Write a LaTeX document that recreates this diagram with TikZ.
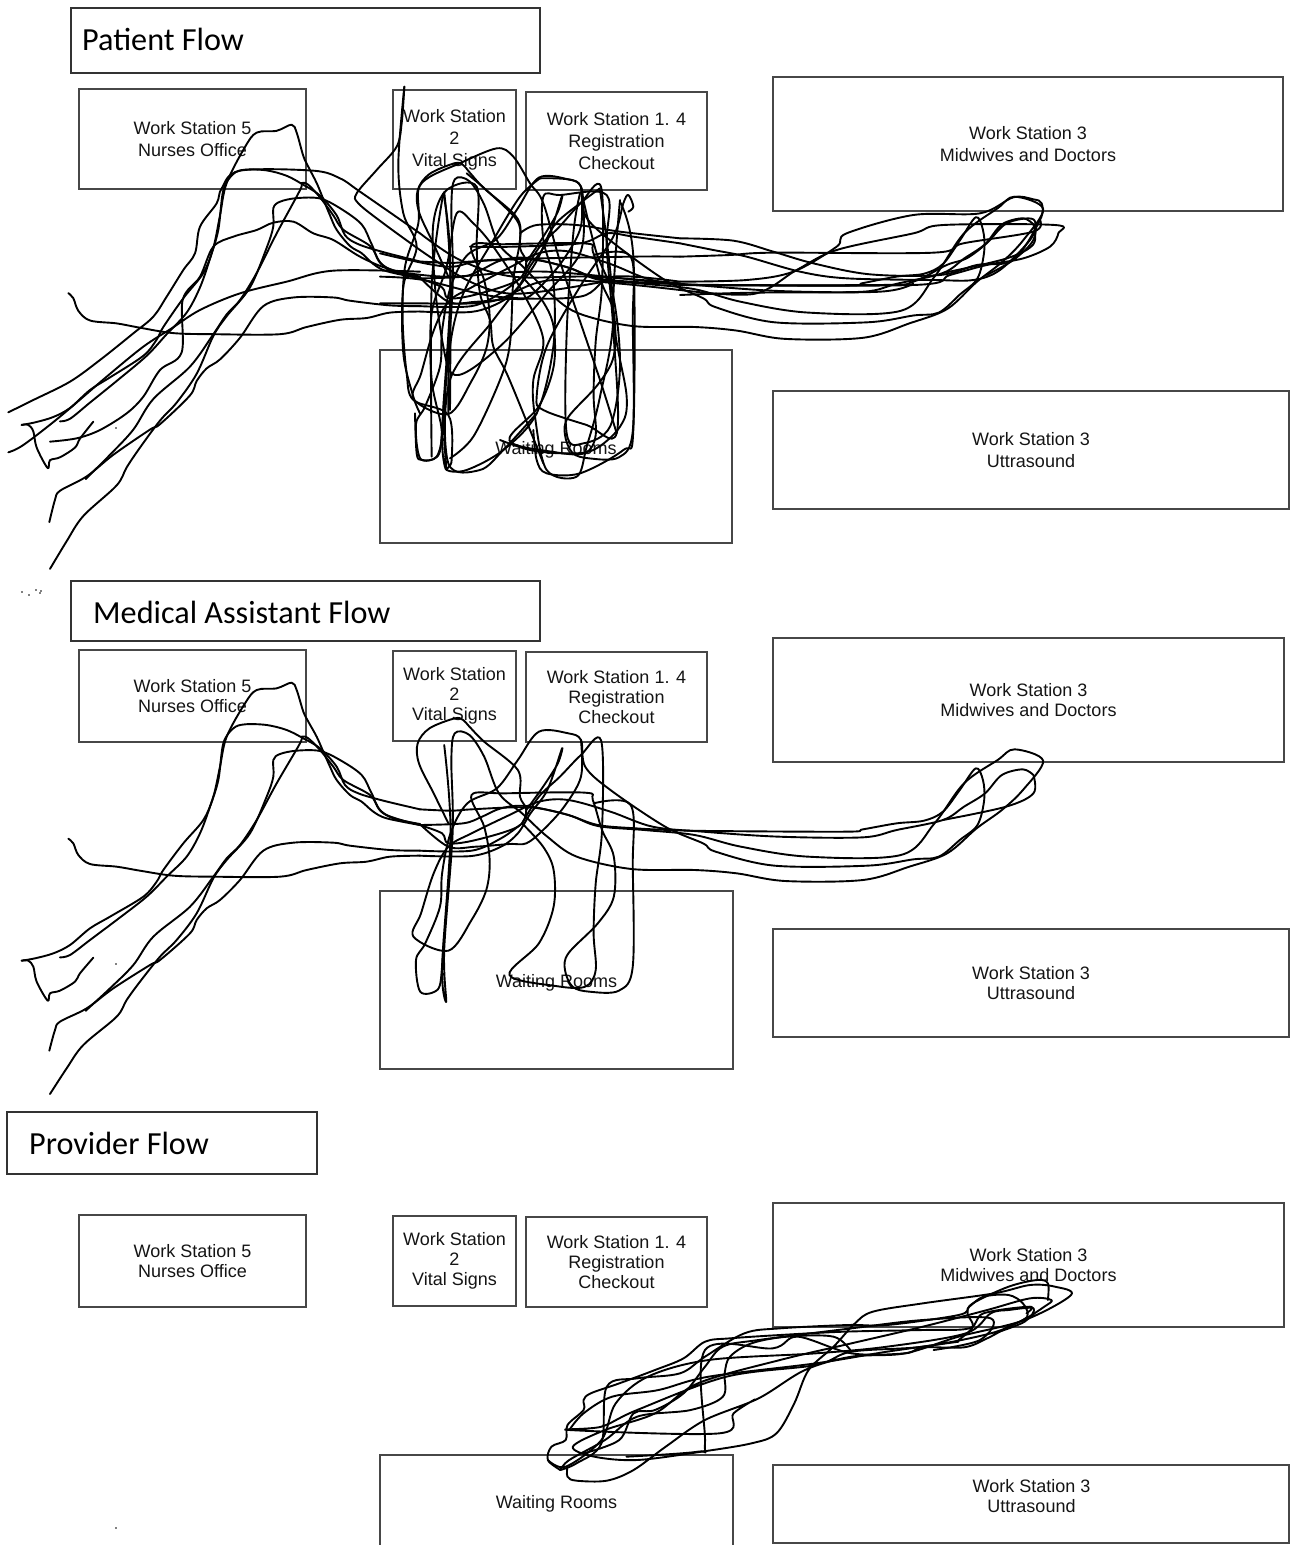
\documentclass[tikz,border=0pt]{standalone}
\usepackage{fontspec}
\setmainfont{Liberation Sans}
\newfontfamily\titlefont{Carlito}
\tikzset{
  stbox/.style={draw=black!72,line width=1.1pt,inner sep=0pt,outer sep=0pt,align=center,text=black!92},
  ttbox/.style={draw=black!80,line width=1.2pt,inner sep=0pt,outer sep=0pt},
  ttlabel/.style={anchor=west,inner sep=0pt,font=\titlefont\fontsize{32.2}{34}\selectfont,text=black},
  flow/.style={draw=black,line width=1.9pt,line join=round,line cap=round},
  zsix/.style={shift={(0,680)},scale=0.33333},
  zthree/.style={shift={(400,700)},xscale=0.42088,yscale=0.33333},
  zone/.style={shift={(0,80)},scale=0.33333},
  ztwo/.style={shift={(380,80)},scale=0.33333},
  zfive/.style={shift={(680,190)},scale=0.33333},
  zfour/.style={shift={(530,1270)},xscale=0.35714,yscale=0.33333},
  patientmap/.style={shift={(0,-612.6)},yscale=1.08},
}
\newcommand\fl[1]{\draw[flow] plot[smooth,tension=.55] coordinates {#1};}
\newcommand\sbx[7]{\node[stbox,font=\fontsize{18}{#7}\selectfont,minimum width={(#4-#2)*1pt},minimum height={(#5-#3)*1pt}] (#1) at ({(#2+#4)/2},{(#3+#5)/2}) {#6};}
\newcommand\tbx[7]{\node[ttbox,minimum width={(#4-#2)*1pt},minimum height={(#5-#3)*1pt}] (#1) at ({(#2+#4)/2},{(#3+#5)/2}) {};
  \node[ttlabel] (#1t) at #6 {#7};}
\newcommand\dotat[2]{\fill[black] (#1,#2) circle (0.9);}
\newcommand\waitlabel[1]{\raisebox{#1}[13pt][4pt]{Waiting Rooms}}
\newcommand\medflow{%
\begin{scope}[zsix]
\fl{(65,842)(105,835)(160,820)(210,795)(270,745)(330,710)(430,650)(470,605)(490,570)(550,490)(610,420)(640,350)(660,260)(680,170)(735,70)(770,30)(830,25)(875,8)(890,30)(910,95)(925,125)(950,170)(970,215)(990,260)(1010,300)(1050,345)(1085,365)(1120,395)(1160,415)(1260,435)}
\fl{(65,842)(85,842)(100,860)(110,905)(143,962)(150,940)(180,932)(225,905)(240,880)(280,833)}
\fl{(180,832)(210,825)(270,780)(350,720)(440,650)(500,590)(560,530)(600,460)(630,380)(655,300)(670,190)(700,145)(735,133)(800,135)(860,150)(910,175)(960,205)(1010,260)(1035,315)(1075,340)(1150,362)(1260,388)}
\fl{(150,1242)(200,1165)(250,1095)(350,1010)(380,960)(420,905)(480,830)(530,780)(590,700)(640,595)(680,540)(750,460)(800,350)(820,290)(820,240)(840,222)(890,212)(960,213)(1020,240)(1085,285)(1115,340)(1150,400)(1260,435)}
\fl{(148,1112)(165,1050)(180,1025)(260,985)(340,925)(450,855)(480,840)(570,760)(590,720)(620,685)(660,660)(720,600)(790,512)(880,488)(1000,488)(1050,497)(1170,510)(1260,512)}
\fl{(258,992)(265,985)(330,925)(400,855)(460,770)(570,680)(640,590)(680,535)(720,495)(770,420)(830,310)(900,190)(905,170)(925,175)(960,210)(1000,260)(1030,300)(1110,345)(1140,390)(1180,415)(1260,432)}
\fl{(205,476)(220,490)(235,525)(270,552)(350,560)(420,572)(520,587)(640,590)(840,590)(920,570)(1020,550)(1100,545)(1170,530)(1260,527)}
\end{scope}
\begin{scope}[zthree]
\fl{(47,328)(120,332)(170,328)(270,322)(330,325)(400,345)(470,375)(560,385)(640,390)(740,393)(1060,395)(1100,388)(1180,370)(1245,362)(1290,335)(1330,270)(1368,205)(1385,240)(1388,300)(1372,375)(1330,420)(1280,470)(1220,478)(1110,497)(890,497)(750,455)(720,430)(630,380)(500,270)(440,200)(430,120)(400,100)(330,95)(280,180)(230,265)(160,310)(120,400)(100,520)(95,620)(60,730)(38,780)(48,875)(90,868)(100,800)(105,700)}
\fl{(47,375)(150,370)(195,350)(240,325)(300,318)(400,345)(470,378)(580,390)(700,405)(810,440)(970,470)(1190,465)(1270,370)(1340,250)(1420,180)(1460,148)(1528,182)(1480,270)(1430,330)(1370,385)(1300,460)(1210,500)(1100,540)(915,543)(800,520)(700,510)(550,507)(420,470)(350,410)(290,340)(235,280)(200,170)(165,105)(130,100)(122,180)(125,400)(105,750)(110,905)(100,800)(120,400)(105,135)}
\fl{(47,375)(100,400)(115,430)(180,420)(280,380)(300,330)(285,290)(280,210)(200,125)(165,80)(150,60)(130,55)(70,85)(42,130)(45,190)(80,280)(115,370)}
\fl{(47,372)(115,440)(180,440)(260,432)(300,430)(340,390)(390,320)(430,230)(430,120)}
\fl{(47,467)(170,468)(240,440)(280,400)(310,340)(350,270)(385,145)(375,190)(340,260)(300,330)}
\fl{(47,452)(170,452)(240,415)(285,375)}
\fl{(1505,225)(1480,208)(1430,225)(1390,280)(1340,320)(1290,360)(1180,390)(1100,412)(900,410)(720,395)(600,380)(500,335)(400,300)(330,305)(260,345)(170,400)(115,440)(80,520)(50,640)(32,710)(115,752)(170,660)(205,570)(213,480)(200,380)(170,285)(250,280)(440,278)(458,300)(480,390)(508,470)(508,590)(470,670)(400,760)(392,810)(410,860)(450,875)(520,872)(553,800)(553,500)(548,315)(460,310)}
\fl{(1505,225)(1505,280)(1440,320)(1290,360)}
\fl{(290,370)(340,440)(365,510)(365,620)(330,730)(260,825)(370,858)(440,860)(465,810)(460,700)(465,550)(480,390)(478,122)(430,165)(380,230)(330,290)(290,370)}
\end{scope}
}
\begin{document}
\begin{tikzpicture}[x=1pt,y=-1pt]
\useasboundingbox (0,0) rectangle (1290,1545);
% Patient panel
\tbx{ptitle}{71}{8}{540}{73}{(82,39)}{Patient Flow}
\sbx{pfive}{79}{89}{306}{189}{Work Station 5\\Nurses Office}{22}
\sbx{ptwo}{393}{90}{516}{189}{Work Station\\2\\Vital Signs}{22}
\sbx{pone}{526}{92}{707}{190}{Work Station 1. 4\\Registration\\Checkout}{22}
\sbx{pmid}{773}{77}{1283}{211}{Work Station 3\\Midwives  and Doctors}{22}
\sbx{pwait}{380}{350}{732}{543}{\waitlabel{-3pt}}{22}
\sbx{pult}{773}{391}{1289}{509}{Work Station 3\\Uttrasound}{22}
% Medical panel
\tbx{mtitle}{71}{581}{540}{641}{(93,612)}{Medical Assistant Flow}
\sbx{mfive}{79}{650}{306}{742}{Work Station 5\\Nurses Office}{20}
\sbx{mtwo}{393}{651}{516}{741}{Work Station\\2\\Vital Signs}{20}
\sbx{mone}{526}{652}{707}{742}{Work Station 1. 4\\Registration\\Checkout}{20}
\sbx{mmid}{773}{638}{1284}{762}{Work Station 3\\Midwives  and Doctors}{20}
\sbx{mwait}{380}{891}{733}{1069}{\waitlabel{-3pt}}{20}
\sbx{mult}{773}{929}{1289}{1037}{Work Station 3\\Uttrasound}{20}
% Provider panel
\tbx{vtitle}{7}{1112}{317}{1174}{(29,1143.5)}{Provider Flow}
\sbx{vfive}{79}{1215}{306}{1307}{Work Station 5\\Nurses Office}{20}
\sbx{vtwo}{393}{1216}{516}{1306}{Work Station\\2\\Vital Signs}{20}
\sbx{vone}{526}{1217}{707}{1307}{Work Station 1. 4\\Registration\\Checkout}{20}
\sbx{vmid}{773}{1203}{1284}{1327}{Work Station 3\\Midwives  and Doctors}{20}
\sbx{vwait}{380}{1455}{733}{1549}{\waitlabel{-2pt}}{20}
\sbx{vult}{773}{1465}{1289}{1543}{}{20}
\node[align=center,inner sep=0pt,text=black!92,font=\fontsize{18}{20}\selectfont] (vultt) at (1031.5,1496) {Work Station 3\\Uttrasound};
% Medical flow
\medflow
% Patient flow: the same strokes, stretched, plus more
\begin{scope}[patientmap]
\medflow
\end{scope}
\begin{scope}[zone]
\fl{(25,997)(100,960)(210,905)(300,840)(400,760)(460,710)(500,650)(550,570)(585,520)(600,440)(650,370)(665,325)(720,272)(940,272)(1020,295)(1080,335)(1260,460)}
\fl{(25,1117)(70,1095)(180,1010)(320,890)(430,800)(515,745)(600,690)(720,640)(860,605)(1000,572)(1260,575)}
\fl{(150,1085)(230,1075)(300,1050)(380,1000)(430,950)(480,870)(545,817)(548,660)(600,590)(640,500)(700,470)(770,450)(820,428)(880,425)(940,460)(1000,480)(1080,530)(1160,565)(1260,590)}
\fl{(1213,20)(1205,130)(1190,200)(1130,270)(1070,340)(1075,370)(1150,430)(1260,510)}
\fl{(1213,20)(1195,250)(1210,400)(1250,500)(1210,620)(1210,820)(1240,950)(1260,1000)}
\end{scope}
\begin{scope}[ztwo]
\fl{(240,250)(150,290)(115,330)(115,430)(75,560)(68,720)(80,880)(100,960)(205,1005)(215,1140)(200,1170)(260,1170)(370,1110)(470,1000)(520,800)(520,600)(490,480)(490,350)(540,345)(680,345)(680,500)(700,750)(710,1060)(620,1035)(490,990)(470,950)(500,800)(600,620)(700,470)(730,370)(745,345)(760,380)(745,395)}
\fl{(240,250)(350,205)(400,230)(450,310)(490,370)(545,560)(660,900)(710,1060)}
\fl{(480,295)(590,305)(610,380)(600,520)(500,640)(380,780)(270,870)(215,880)(190,800)(165,620)(160,430)(200,330)(290,320)(290,500)(300,640)(330,720)(340,800)(380,880)(430,1000)(490,1150)}
\fl{(480,295)(420,350)(340,480)(250,640)(210,800)(205,1000)}
\fl{(260,280)(330,340)(410,420)(420,480)(400,600)(390,790)(360,900)(280,1070)(210,1135)}
\fl{(720,365)(760,530)(760,1050)(730,1110)(600,1180)(500,1180)(470,1140)(460,1050)}
\fl{(360,1080)(450,1110)(550,1120)(640,1110)(720,1040)(740,950)(700,700)(720,360)}
\fl{(105,1000)(110,1120)(125,1140)(170,1130)(185,1050)(155,900)(155,700)(200,560)(230,400)(280,430)(340,500)(430,640)(490,780)(460,900)(465,1010)(500,1170)(590,1190)(620,1100)(660,950)(700,700)(660,330)}
\fl{(660,325)(600,370)(520,440)(460,560)(340,720)(210,900)(205,1150)(300,1170)(370,1110)(470,1000)}
\fl{(600,340)(580,460)(560,760)(560,1060)(610,1090)(690,1040)(720,860)(700,650)(650,520)(610,360)}
\fl{(190,340)(210,520)(210,990)}
\fl{(190,340)(155,620)(155,1130)}
\fl{(420,460)(470,435)(590,435)(720,455)(900,475)}
\fl{(270,500)(400,500)(600,490)(680,460)(760,470)(900,490)}
\fl{(0,520)(200,560)(330,540)(750,530)(900,530)}
\fl{(0,590)(130,600)(350,650)(600,650)(700,590)(900,605)}
\fl{(20,570)(200,590)(500,575)(900,615)}
\fl{(0,670)(100,670)(330,665)(520,600)(900,630)}
\fl{(120,460)(240,540)(400,590)(640,590)(900,610)}
\fl{(120,510)(260,600)(380,640)(520,630)(700,600)}
\end{scope}
\begin{scope}[zfive]
\fl{(0,145)(160,152)(280,185)(400,220)(570,253)(780,255)(890,225)(1000,210)(1080,90)(1085,40)(1060,28)(1000,22)(900,70)(700,75)(500,130)(470,170)(340,245)(200,270)(0,275)}
\fl{(0,160)(100,180)(200,200)(360,245)(500,265)(760,270)(880,270)(960,240)(1050,150)(1070,100)}
\fl{(0,200)(150,195)(280,188)(760,188)(850,160)(1060,125)(1080,90)}
\fl{(0,300)(220,312)(350,240)(470,180)(700,130)(790,105)(1125,105)(1135,130)(1110,170)(1030,205)(920,225)(810,255)(700,285)(0,285)}
\fl{(0,285)(600,285)(700,275)(800,225)(860,205)(920,160)(980,100)(1060,88)(1060,150)(1000,210)(920,255)}
\fl{(0,315)(220,308)(600,305)(700,280)}
\end{scope}
% Provider flow
\begin{scope}[zfour]
\fl{(105,590)(105,620)(130,632)(215,632)(290,600)(380,530)(490,450)(640,385)(770,300)(900,260)(1050,250)(1200,200)(1385,150)(1515,75)(1470,50)(1400,45)(1300,70)(1100,100)(960,125)(910,160)(850,230)(780,300)(740,400)(690,490)(620,520)(480,545)(300,570)(180,560)(120,530)(210,480)(350,430)(470,340)(700,270)(900,220)(1100,170)(1280,120)(1400,85)(1460,90)(1440,110)(1380,150)(1290,190)(1100,230)(900,245)(800,285)(550,320)(300,420)(200,470)(110,480)(530,490)(570,430)(630,388)}
\fl{(85,600)(50,570)(60,530)(100,510)(105,465)(150,420)(150,390)(170,370)(250,340)(350,300)(430,265)(490,215)(560,205)(700,195)(880,185)(1100,180)(1230,175)(1270,130)(1400,110)(1390,130)}
\fl{(85,600)(130,580)(200,520)(215,350)(300,325)(420,310)(490,260)(600,190)(700,175)(890,165)(1000,165)(1200,135)(1230,110)(1270,80)(1340,75)(1380,100)(1392,140)(1340,170)(1280,205)(1215,232)(1100,232)(1050,250)(900,250)(750,200)(680,235)(490,240)(490,520)(470,545)(270,560)}
\fl{(150,550)(250,510)(290,430)(350,420)(430,370)(490,290)(540,230)(640,210)(900,175)(1100,150)(1290,145)(1260,210)(1130,240)}
\fl{(50,570)(100,590)(200,510)(240,400)(330,320)(500,270)(800,250)(1000,230)(1220,190)(1290,130)(1340,120)(1410,115)(1385,155)(1300,190)}
\fl{(1450,90)(1450,40)(1420,30)(1340,50)(1240,100)(1225,130)(1240,170)(1200,210)}
\fl{(85,600)(110,570)(210,510)(300,440)(450,420)(540,380)(545,310)(560,260)(620,220)(720,200)(850,200)(900,245)}
\fl{(110,480)(150,430)(230,380)(360,360)(500,320)(800,280)(1000,245)(1200,215)}
\end{scope}
% Stray dots
\dotat{116}{428}\dotat{116}{964}\dotat{116}{1528}
\dotat{22}{592}\dotat{29}{595}\dotat{36}{590}\dotat{40}{593}\dotat{41}{591}
\end{tikzpicture}
\end{document}
